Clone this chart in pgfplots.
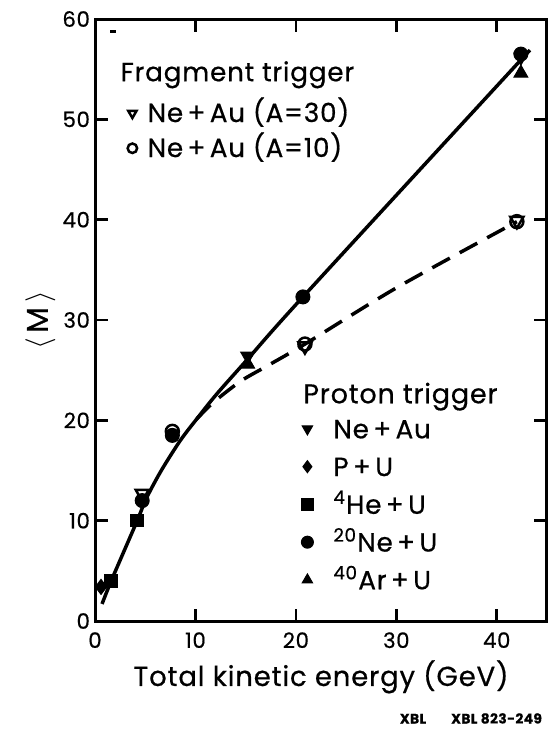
\documentclass[border=0pt]{standalone}
\usepackage{pgfplots}
\pgfplotsset{compat=1.18}
\usepackage{fontspec}
\setmainfont{Poppins}[LetterSpace=3, FakeBold=0.6]
\begin{document}
\begin{tikzpicture}
\begin{axis}[name=ax,
  scale only axis, width=180.8pt, height=240.8pt,
  xmin=0, xmax=45, ymin=0, ymax=60,
  xtick={0,10,20,30,40}, ytick={0,10,20,30,40,50,60},
  tick align=inside, major tick length=5pt,
  tick style={line width=1.1pt, black},
  axis line style={line width=1.2pt},
  /pgf/number format/assume math mode=true,
  ticklabel style={font=\fontsize{8.5}{10}\selectfont},
  yticklabel style={xshift=1.5pt},
  xticklabel style={yshift=-1pt},
  xlabel={Total kinetic energy (GeV)},
  ylabel={$\langle$\,M\,$\rangle$},
  label style={font=\fontsize{11}{13}\selectfont},
  xlabel style={yshift=2pt},
  ylabel style={yshift=-4pt, font=\fontsize{12}{14}\selectfont},
  legend style={at={(axis cs:3.2,52.4)}, anchor=north west, draw=none, fill=none,
    font=\fontsize{10.5}{12}\selectfont, row sep=0pt, inner sep=0pt,
    cells={inner sep=0.6pt, text height=8.5pt, text depth=2pt},
    /tikz/every odd column/.append style={column sep=2.2pt}},
  legend cell align=left,
  legend image post style={mark size=1.9pt},
]
\addplot[smooth, line width=1.4pt, tension=0.5, forget plot] coordinates {(0.7,1.7)(1.7,4.2)(4.2,10.0)(5.1,12.2)(6.6,15.0)(8.5,18.0)(10.1,20.1)(12.1,22.6)(15.2,26.1)(20.7,32.3)(43.3,56.9)};
\addplot[smooth, line width=1.4pt, dash pattern=on 8pt off 4.5pt, forget plot] coordinates {(10.1,20.1)(11.8,21.8)(14.5,23.9)(17.1,25.4)(20.9,27.6)(30,33.2)(42,39.8)};
\addplot[only marks, mark=triangle, mark size=3pt, mark options={rotate=180, line width=1pt, fill=white}] coordinates {(4.7,12.7)(20.9,27.4)(42,39.9)};
\addplot[only marks, mark=o, mark size=2.6pt, mark options={line width=1pt}] coordinates {(7.7,18.9)(20.9,27.6)(42,39.8)};
\legend{Ne\,+\,Au (A=30), Ne\,+\,Au (A=10)}
\node[anchor=base west, inner sep=0pt, font=\fontsize{10.5}{12}\selectfont] at (axis cs:2.5,53.8) {Fragment trigger};
\draw[line width=1.2pt] (axis cs:1.5,58.8) -- (axis cs:2.1,58.8);
\node[anchor=base west, inner sep=0pt, font=\fontsize{10.8}{12}\selectfont] at (axis cs:20.7,21.7) {Proton trigger};
\end{axis}
\begin{axis}[
  scale only axis, width=180.8pt, height=240.8pt,
  xmin=0, xmax=45, ymin=0, ymax=60, hide axis,
  legend style={at={(axis cs:20.5,21.0)}, anchor=north west, draw=none, fill=none,
    font=\fontsize{10.5}{12}\selectfont, row sep=0.6pt, inner sep=0pt,
    cells={inner sep=0.6pt, text height=9pt, text depth=2.5pt},
    /tikz/every odd column/.append style={column sep=6pt}},
  legend cell align=left,
  legend image post style={mark size=2.4pt},
]
\addplot[only marks, mark=triangle*, mark size=3.2pt, mark options={rotate=180}] coordinates {(15.2,26.4)(42.4,56.2)};
\addplot[only marks, mark=diamond*, mark size=3pt] coordinates {(0.6,3.4)};
\addplot[only marks, mark=square*, mark size=2.5pt] coordinates {(1.6,4.0)(4.2,10.0)};
\addplot[only marks, mark=*, mark size=2.8pt] coordinates {(4.7,12.0)(7.7,18.5)(20.7,32.3)(42.4,56.5)};
\addplot[only marks, mark=triangle*, mark size=3.2pt] coordinates {(15.2,25.6)(42.4,54.6)};
\legend{Ne\,+\,Au, P\,+\,U, \textsuperscript{4}He\,+\,U, \textsuperscript{20}Ne\,+\,U, \textsuperscript{40}Ar\,+\,U}
\end{axis}
\node[anchor=base east, font=\bfseries\fontsize{5.5}{6}\selectfont] at ([xshift=1.5pt,yshift=-41pt]ax.south east) {XBL\hspace{10pt}XBL 823-249};
\pgfresetboundingbox
\useasboundingbox ([xshift=-38pt,yshift=-44.8pt]ax.south west) rectangle ([xshift=2.8pt,yshift=7.6pt]ax.north east);
\end{tikzpicture}
\end{document}
